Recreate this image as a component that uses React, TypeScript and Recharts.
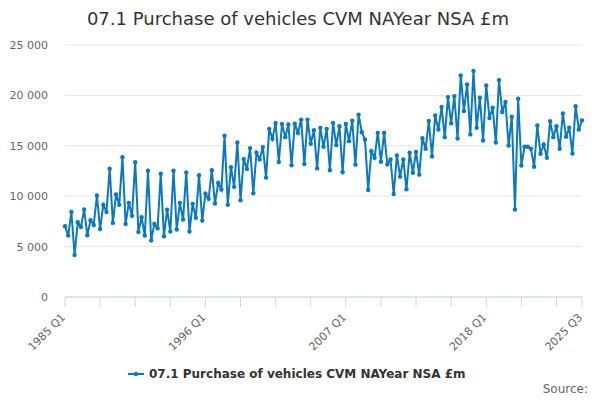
import React from 'react';
import { LineChart, Line, XAxis, YAxis, CartesianGrid } from 'recharts';

const startYear = 1985;
const quarters: string[] = [];
for (let y = startYear; y <= 2025; y++) {
  for (let q = 1; q <= 4; q++) {
    if (y === 2025 && q > 3) break;
    quarters.push(`${y} Q${q}`);
  }
}

// £m
const purchases = [
  7020, 6090, 8440, 4170, 7420, 6950, 8680, 6130, 7620, 7150,
  10070, 6750, 9140, 8440, 12720, 7350, 10170, 9140, 13860, 7250,
  9340, 8050, 13380, 6460, 7910, 6090, 12520, 5600, 7250, 6820,
  12220, 6030, 8670, 6490, 12520, 6690, 9340, 7680, 12360, 6500,
  9240, 7850, 12090, 7580, 10260, 9740, 12580, 9270, 11320, 10660,
  15990, 9140, 12880, 10930, 15330, 9600, 13680, 12710, 14770, 10300,
  14310, 13650, 14870, 11840, 16680, 15690, 17270, 13390, 17170, 15860,
  17110, 13060, 17200, 16280, 17600, 13190, 17600, 15200, 16550, 12760,
  16780, 14900, 16680, 12570, 17270, 15070, 16940, 12370, 17170, 15460,
  17500, 13130, 18090, 16350, 15630, 10620, 14470, 13820, 16280, 13420,
  16280, 13160, 13650, 10230, 14050, 11940, 13650, 10690, 14310, 12330,
  14380, 12140, 15760, 14700, 17470, 13950, 18000, 16610, 18850, 15860,
  19830, 17220, 19930, 15730, 21990, 18440, 21090, 16130, 22420, 16790,
  19770, 15530, 20990, 17750, 18780, 15330, 21520, 18350, 19340, 15030,
  17880, 8680, 19670, 13050, 14900, 14900, 14700, 12920, 17020, 14210,
  15130, 13810, 17450, 15860, 16950, 14700, 18210, 15900, 16790, 14240,
  18940, 16620, 17520,
];

const yTicks = [0, 5000, 10000, 15000, 20000, 25000];
const tickLabels = ['1985 Q1', '1996 Q1', '2007 Q1', '2018 Q1', '2025 Q3'];
const tickMarks = quarters.filter((_, i) => i % 11 === 0 || i === quarters.length - 1);

const title = '07.1 Purchase of vehicles CVM NAYear NSA £m';
const seriesName = '07.1 Purchase of vehicles CVM NAYear NSA £m';

const data = quarters.map((q, i) => ({ q, v: purchases[i] }));

const FONT = '"DejaVu Sans", sans-serif';
const BLUE = '#0a78c2';

const fmt = (v: number) => v.toLocaleString('en-US').replace(/,/g, ' ');

const QuarterTick = (props: any) => {
  const { x, y, payload } = props;
  if (!tickLabels.includes(payload.value)) return null;
  const tx = x + 1;
  const ty = y + 9;
  return (
    <text
      x={tx}
      y={ty}
      transform={`rotate(-45, ${tx}, ${ty})`}
      textAnchor="end"
      fontSize={11}
      fill="#666"
      fontFamily={FONT}
    >
      {payload.value}
    </text>
  );
};

export default function App() {
  return (
    <div style={{ position: 'absolute', left: 0, top: 0, width: 600, height: 400, background: '#fff' }}>
      <LineChart
        width={600}
        height={400}
        data={data}
        margin={{ top: 45, right: 18, bottom: 73, left: 0 }}
      >
        <CartesianGrid vertical={false} stroke="#e6e6e6" />
        <XAxis
          dataKey="q"
          ticks={tickMarks}
          interval={0}
          height={30}
          tickSize={10}
          axisLine={{ stroke: '#ccd6eb' }}
          tickLine={{ stroke: '#ccd6eb' }}
          tick={<QuarterTick />}
        />
        <YAxis
          width={65}
          domain={[0, 25000]}
          ticks={yTicks}
          axisLine={false}
          tickLine={false}
          tickMargin={11}
          tickFormatter={fmt}
          tick={{ fontSize: 11, fill: '#666', fontFamily: FONT }}
        />
        <Line
          type="linear"
          dataKey="v"
          stroke={BLUE}
          strokeWidth={2}
          dot={{ r: 2.2, fill: BLUE, stroke: BLUE, strokeWidth: 0 }}
          isAnimationActive={false}
        />
      </LineChart>
      <svg
        width={600}
        height={400}
        style={{ position: 'absolute', left: 0, top: 0, pointerEvents: 'none' }}
      >
        <text x={298} y={25} textAnchor="middle" fontSize={18} fill="#333" fontFamily={FONT}>
          {title}
        </text>
        <line x1={128} x2={144} y1={374} y2={374} stroke={BLUE} strokeWidth={2} />
        <circle cx={136} cy={374} r={2.2} fill={BLUE} />
        <text x={149} y={378} fontSize={12} fontWeight="bold" fill="#333" fontFamily={FONT}>
          {seriesName}
        </text>
        <text x={588} y={393} textAnchor="end" fontSize={12} fill="#666" fontFamily={FONT}>
          Source:
        </text>
      </svg>
    </div>
  );
}
